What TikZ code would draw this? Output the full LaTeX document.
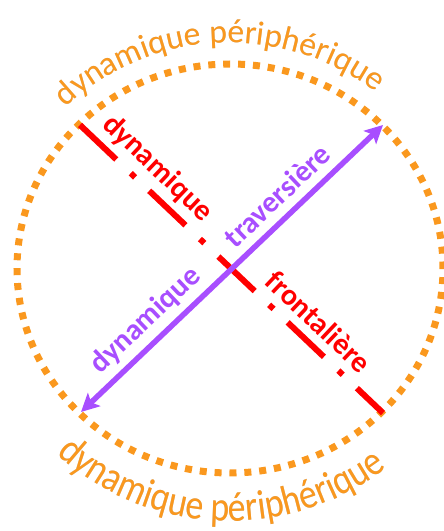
\documentclass[tikz,border=0pt]{standalone}
\usepackage{fontspec}
\newfontfamily\calfont{Carlito}
\newfontfamily\calnarrow[FakeStretch=0.86]{Carlito}
\usetikzlibrary{arrows.meta,decorations.text,calc}
\definecolor{orgc}{RGB}{250,152,30}
\definecolor{redc}{RGB}{255,0,0}
\definecolor{purc}{RGB}{168,78,255}
\newcommand\orfont{\calfont\fontsize{33.5}{40}\selectfont}
\newcommand\orbotfont{\calnarrow\fontsize{41.5}{48}\selectfont}
\begin{document}
\begin{tikzpicture}[x=1pt,y=1pt,
  lbl/.style={font=\calfont\bfseries\fontsize{30}{36}\selectfont, inner sep=0pt},
  redlbl/.style={lbl, text=redc, rotate=-43.5},
  purlbl/.style={lbl, text=purc, rotate=43.5},
  ring/.style={orgc, line width=7pt, dash pattern=on 7pt off 7.9pt},
  redline/.style={redc, line width=6pt, dash pattern=on 50pt off 20pt on 6pt off 19.5pt},
  purtip/.tip={Stealth[length=18pt,width=18pt,inset=4pt]},
  purline/.style={purc, line width=5.5pt, purtip-purtip},
  toptext/.style={decorate, decoration={text along path, text align=center,
     text={|\orfont|dynamique périphérique}}},
  bottext/.style={decorate, decoration={text along path, text align=center,
     text={|\orbotfont|dynamique périphérique}}},
]
\useasboundingbox (0,0) rectangle (444,531);
\coordinate (O) at (230,262.5);
% dotted ring
\draw[ring] (O) ellipse[x radius=213, y radius=204.5];
% curved texts (shadow, then text)
\path[toptext, decoration={text color=black!22}, shift={(1.5,-1.5)}]
  ([shift={(140:234 and 225.5)}]O) arc[start angle=140, end angle=46, x radius=234, y radius=225.5];
\path[toptext, decoration={text color=orgc}]
  ([shift={(140:234 and 225.5)}]O) arc[start angle=140, end angle=46, x radius=234, y radius=225.5];
\path[bottext, decoration={text color=black!22}, shift={(1.5,-1.5)}]
  ([shift={(222:256 and 252.5)}]O) arc[start angle=222, end angle=313, x radius=256, y radius=252.5];
\path[bottext, decoration={text color=orgc}]
  ([shift={(222:256 and 252.5)}]O) arc[start angle=222, end angle=313, x radius=256, y radius=252.5];
% lines
\coordinate (A) at (80,406);
\coordinate (B) at (383,118);
\coordinate (C) at (81,119);
\coordinate (D) at (383,406);
\draw[redline] (A) -- (B);
\draw[purline] (C) -- (D);
% labels
\node[redlbl] (r1) at ($(A)!0.206!(B)+(46.5:22)$) {dynamique};
\node[redlbl] (r2) at ($(A)!0.738!(B)+(46.5:22)$) {frontalière};
\node[purlbl] (p1) at ($(C)!0.264!(D)+(133.5:22)$) {dynamique};
\node[purlbl] (p2) at ($(C)!0.699!(D)+(133.5:22)$) {traversière};
\end{tikzpicture}
\end{document}
